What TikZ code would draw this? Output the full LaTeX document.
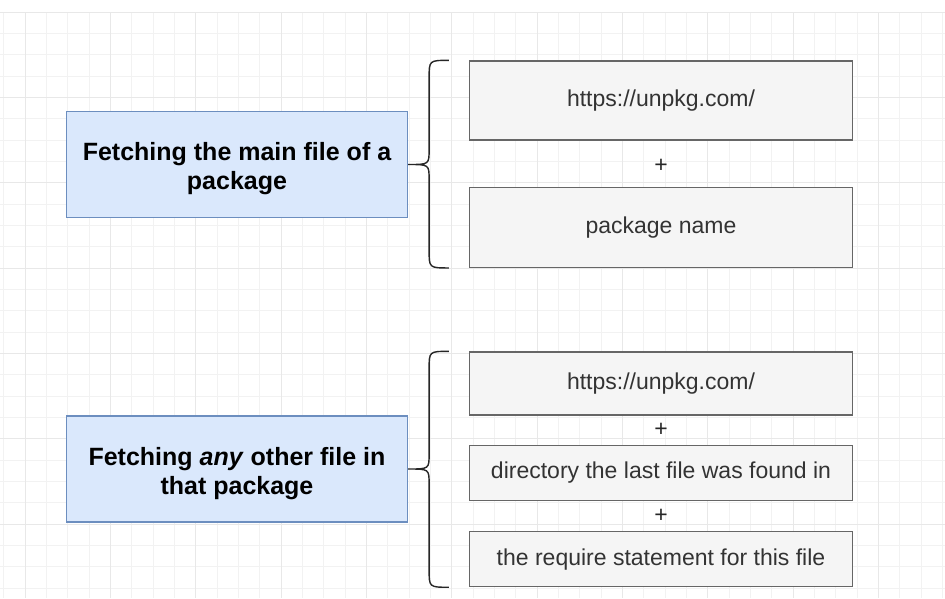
\documentclass[tikz,border=0pt]{standalone}
\usepackage{fontspec}
\setmainfont{Liberation Sans}
\usepackage{tikz}
\usetikzlibrary {calc,
                 positioning}
\definecolor{topicfill}{HTML}{DAE8FC}
\definecolor{topicdraw}{HTML}{6C8EBF}
\definecolor{partfill}{HTML}{F5F5F5}
\definecolor{partdraw}{HTML}{666666}
\definecolor{parttext}{HTML}{333333}
\tikzset{
        gridminor/.style={draw=black!5, line width=0.8pt},
        gridmajor/.style={draw=black!9, line width=0.9pt},
        topic/.style={draw=topicdraw, fill=topicfill, line width=1.2pt,
                      minimum width=341pt, minimum height=106pt,
                      text height=56pt,
                      align=center, font=\fontsize{25}{29}\selectfont\bfseries},
        part/.style={draw=partdraw, fill=partfill, line width=1.3pt,
                     minimum width=383pt, text=parttext,
                     font=\fontsize{23}{27}\selectfont},
        plus/.style={text=black!85, font=\fontsize{23}{27}\selectfont,
                     inner sep=0pt},
        brace/.style={draw=black!85, line width=1.4pt},
 }
% #1 tip, #2 top end, #3 bottom end
\newcommand{\curlybrace}[3]{%
    \draw[brace] let \p1=(#1), \p2=(#2), \p3=(#3) in
        (\p2) .. controls (\x1+21pt,\y2) .. (\x1+21pt,\y2-18pt)
        -- (\x1+21pt,\y1+15pt) .. controls (\x1+21pt,\y1) .. (\p1)
        .. controls (\x1+21pt,\y1) .. (\x1+21pt,\y1-15pt)
        -- (\x1+21pt,\y3+18pt) .. controls (\x1+21pt,\y3) .. (\p3);
}

\begin{document}
\begin{tikzpicture}[x=1pt, y=-1pt]
    \useasboundingbox (0,0) rectangle (945,598);
    \fill[white] (0,0) rectangle (945,598);
    \foreach \i in {0,...,44}
        \draw[gridminor] ({3.67+\i*21.333},12) -- ({3.67+\i*21.333},598);
    \foreach \j in {0,...,27}
        \draw[gridminor] (0,{12+\j*21.333}) -- (945,{12+\j*21.333});
    \foreach \i in {0,...,11}
        \draw[gridmajor] ({25+\i*85.333},12) -- ({25+\i*85.333},598);
    \foreach \j in {0,...,6}
        \draw[gridmajor] (0,{12+\j*85.333}) -- (945,{12+\j*85.333});

    \node[topic] (main) at (237,164.5) {Fetching the main file of a\\package};
    \node[topic] (other) at (237,469) {Fetching \textit{any} other file in\\that package};

    \node[part, minimum height=79pt] (url1) at (661,100.5) {https://unpkg.com/};
    \node[part, minimum height=80pt, below=46pt of url1] (name) {package name};
    \node[plus] (plus1) at ($(url1.south)!0.55!(name.north)$) {+};

    \node[part, minimum height=63pt] (url2) at (661,383.5) {https://unpkg.com/};
    \node[part, minimum height=55pt, below=29pt of url2] (dir) {directory the last file was found in};
    \node[part, minimum height=55pt, below=30pt of dir] (req) {the require statement for this file};
    \node[plus] (plus2) at ($(url2.south)!0.5!(dir.north)$) {+};
    \node[plus] (plus3) at ($(dir.south)!0.5!(req.north)$) {+};

    \curlybrace{main.east}{$(url1.north west)+(-20,0)$}{$(name.south west)+(-20,0)$}
    \curlybrace{other.east}{$(url2.north west)+(-20,0)$}{$(req.south west)+(-20,0)$}
\end{tikzpicture}
\end{document}
